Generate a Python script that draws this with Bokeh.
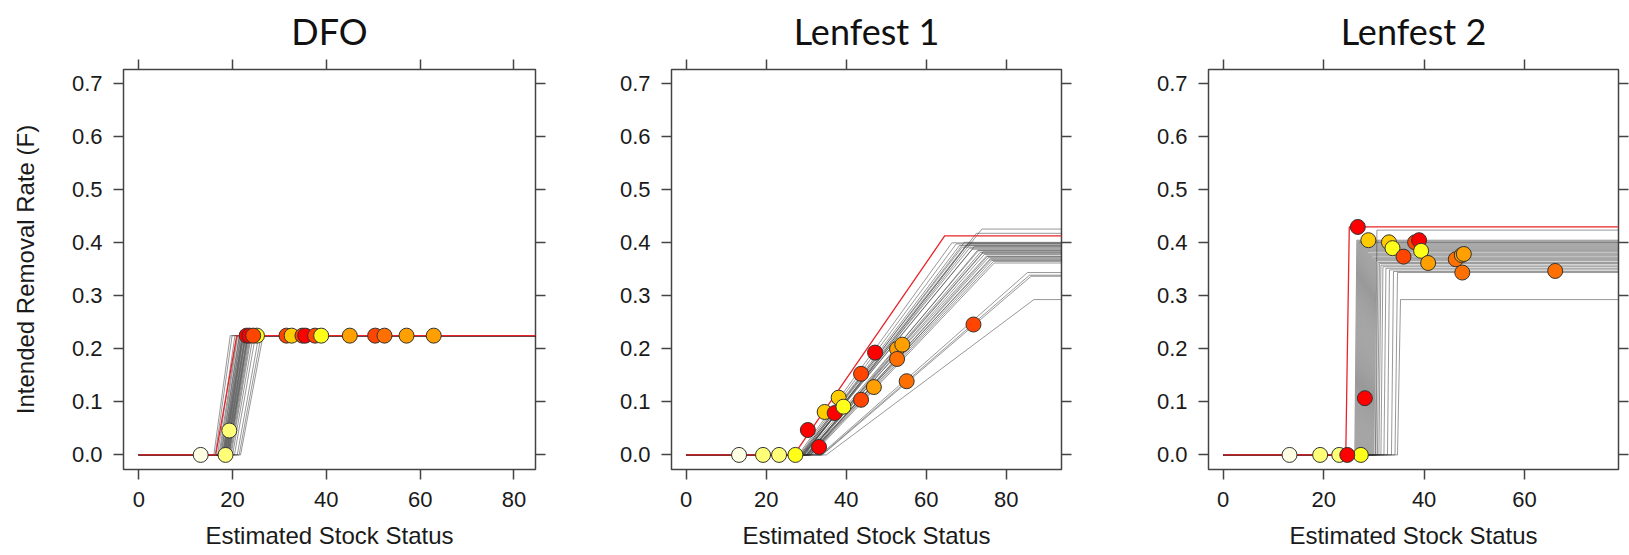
from bokeh.plotting import figure
from bokeh.layouts import row
from bokeh.models import LinearAxis, FixedTicker, PrintfTickFormatter, Range1d, ColumnDataSource
from bokeh.embed import file_html
from bokeh.resources import INLINE

# ---------------- text ----------------
TITLES = ["DFO", "Lenfest 1", "Lenfest 2"]
X_LABEL = "Estimated Stock Status"
Y_LABEL = "Intended Removal Rate (F)"
Y_TICKS = [0.0, 0.1, 0.2, 0.3, 0.4, 0.5, 0.6, 0.7]
X_TICKS_DFO = [0, 20, 40, 60, 80]
X_TICKS_L1 = [0, 20, 40, 60, 80]
X_TICKS_L2 = [0, 20, 40, 60]
X_END = 100  # rules continue past the right edge

# ---------------- colours of the yearly points ----------------
IVORY = "#FFFFE3"
LTYEL = "#FFFF78"
YEL = "#FFFF1A"
GOLD = "#FFCC00"
ORANGE = "#FFA000"
DKOR = "#FF7000"
REDOR = "#FF4500"
RED = "#FF0000"

# ---------------- DFO ----------------
dfo_red = [16.4, 20.9, 0.225]  # start of ramp, end of ramp, F max
dfo_fmax = 0.225
dfo_x0 = [16.0, 16.3, 16.8, 17.1, 17.3, 17.5, 17.6, 17.8, 17.9, 18.0, 18.1, 18.2, 18.3, 18.4, 18.5,
          18.6, 18.7, 18.8, 18.9, 19.0, 19.1, 19.2, 19.3, 19.5, 19.7, 20.0, 20.4, 21.0, 21.4, 21.7]
dfo_x1 = [19.5, 19.9, 20.5, 20.9, 21.1, 21.4, 21.5, 21.7, 21.8, 22.0, 22.1, 22.2, 22.3, 22.4, 22.6,
          22.7, 22.8, 22.9, 23.1, 23.2, 23.3, 23.4, 23.6, 23.8, 24.0, 24.4, 24.9, 25.6, 26.1, 26.5]
dfo_px = [13.2, 18.5, 19.3, 25.2, 23.0, 23.6, 24.4, 31.5, 32.6, 34.9, 35.5, 37.6, 38.9, 45.0, 50.4, 52.4, 57.1, 62.9]
dfo_pf = [0.0, 0.0, 0.046, 0.225, 0.225, 0.225, 0.225, 0.225, 0.225, 0.225, 0.225, 0.225, 0.225,
          0.225, 0.225, 0.225, 0.225, 0.225]
dfo_pc = [IVORY, LTYEL, LTYEL, YEL, RED, RED, REDOR, REDOR, GOLD, REDOR, RED, REDOR, YEL,
          ORANGE, REDOR, DKOR, ORANGE, ORANGE]

# ---------------- Lenfest 1 ----------------
l1_red = [26.9, 64.6, 0.413]
l1_x0 = [28.0, 28.3, 28.6, 28.5, 28.8, 29.0, 29.2, 29.0, 29.5, 29.3, 29.6, 30.0, 30.2, 30.4, 30.0,
         30.6, 30.8, 31.0, 31.2, 30.5, 31.5, 29.4, 28.9, 30.3, 31.0, 33.5, 33.8, 34.0, 35.0, 29.9]
l1_x1 = [66.4, 67.5, 68.3, 69.0, 70.0, 70.8, 71.5, 72.0, 73.9, 72.5, 73.0, 73.5, 74.0, 74.5, 75.0,
         75.5, 76.0, 76.4, 76.8, 76.0, 77.0, 70.5, 69.5, 72.8, 75.2, 85.3, 85.8, 86.2, 86.9, 74.2]
l1_f = [0.400, 0.398, 0.395, 0.392, 0.396, 0.390, 0.388, 0.393, 0.426, 0.418, 0.385, 0.382, 0.380,
        0.378, 0.375, 0.372, 0.370, 0.367, 0.365, 0.368, 0.362, 0.399, 0.401, 0.386, 0.374, 0.344,
        0.339, 0.337, 0.293, 0.383]
l1_px = [13.2, 19.2, 23.2, 27.3, 30.4, 33.2, 34.6, 37.1, 38.1, 39.3, 43.7, 43.7, 47.2, 46.9, 52.7,
         54.0, 52.7, 55.1, 71.8]
l1_pf = [0.0, 0.0, 0.0, 0.0, 0.047, 0.015, 0.081, 0.079, 0.108, 0.091, 0.153, 0.104, 0.193, 0.128,
         0.200, 0.208, 0.181, 0.139, 0.246]
l1_pc = [IVORY, LTYEL, LTYEL, YEL, RED, RED, GOLD, RED, GOLD, YEL, REDOR, REDOR, RED, ORANGE,
         ORANGE, ORANGE, DKOR, DKOR, REDOR]

# ---------------- Lenfest 2 ----------------
l2_red = [24.4, 25.1, 0.430]
l2_x0 = [26.2, 26.4, 26.6, 26.8, 27.0, 27.2, 27.4, 27.6, 27.8, 28.0, 28.2, 28.4, 28.6, 28.8, 29.0,
         29.2, 29.4, 29.6, 29.8, 30.0, 30.3, 30.4, 30.7, 31.0, 31.4, 32.0, 32.7, 33.5, 34.2, 34.7]
l2_x1 = [26.6, 26.8, 27.0, 27.2, 27.4, 27.6, 27.8, 28.0, 28.2, 28.4, 28.6, 28.8, 29.0, 29.2, 29.4,
         29.6, 29.8, 30.0, 30.2, 30.4, 30.6, 30.8, 31.1, 31.4, 31.8, 32.4, 33.1, 33.9, 34.7, 35.3]
l2_f = [0.405, 0.403, 0.401, 0.400, 0.398, 0.396, 0.394, 0.392, 0.390, 0.388, 0.386, 0.384, 0.381,
        0.379, 0.377, 0.375, 0.372, 0.370, 0.368, 0.366, 0.424, 0.363, 0.361, 0.358, 0.355, 0.352,
        0.349, 0.346, 0.344, 0.293]
l2_px = [13.2, 19.3, 23.1, 27.4, 24.7, 26.8, 28.2, 28.9, 33.0, 33.7, 35.9, 38.2, 39.0, 39.4, 40.8,
         46.3, 47.5, 47.9, 47.6, 66.1]
l2_pf = [0.0, 0.0, 0.0, 0.0, 0.0, 0.430, 0.107, 0.405, 0.401, 0.390, 0.374, 0.401, 0.405, 0.385,
         0.362, 0.369, 0.377, 0.379, 0.344, 0.347]
l2_pc = [IVORY, LTYEL, LTYEL, YEL, RED, RED, RED, GOLD, GOLD, YEL, REDOR, REDOR, RED, YEL, ORANGE,
         DKOR, ORANGE, ORANGE, DKOR, DKOR]

FONT = "Liberation Sans"
BOX = "#444444"
FRAME_H = 400
B_TOP = 69
B_BOTTOM = 86


def rule(x0, x1, f):
    return [0, x0, x1, X_END], [0, 0, f, f]


def panel(title, xr, xticks, frame_w, bl, br, red, gx0, gx1, gf, px, pf, pc, ylabel):
    p = figure(output_backend="svg", toolbar_location=None,
               frame_width=frame_w, frame_height=FRAME_H,
               min_border_left=bl, min_border_right=br,
               min_border_top=B_TOP, min_border_bottom=B_BOTTOM,
               x_range=Range1d(*xr), y_range=Range1d(-0.0275, 0.727),
               x_axis_label=X_LABEL, y_axis_label=ylabel)
    p.title.text = title
    p.title.align = "center"
    p.title.text_font = "Lato"
    p.title.text_font_size = "36px"
    p.title.text_font_style = "normal"
    p.title.text_color = "#111111"
    p.title.text_line_height = 0.8
    p.title.standoff = 13
    p.grid.visible = False
    p.background_fill_color = "white"
    p.border_fill_color = "white"
    p.outline_line_color = BOX
    p.outline_line_width = 1.5

    bottom = p.below[0]
    left = p.left[0]
    top = LinearAxis()
    right = LinearAxis()
    p.add_layout(top, "above")
    p.add_layout(right, "right")

    for ax in (bottom, top):
        ax.ticker = FixedTicker(ticks=xticks)
    for ax in (left, right):
        ax.ticker = FixedTicker(ticks=Y_TICKS)
        ax.formatter = PrintfTickFormatter(format="%.1f")
    for ax in (bottom, top, left, right):
        ax.axis_line_color = None
        ax.major_tick_in = 0
        ax.major_tick_out = 10
        ax.major_tick_line_color = BOX
        ax.major_tick_line_width = 1.5
        ax.minor_tick_line_color = None
        ax.major_label_text_font = FONT
        ax.major_label_text_font_size = "22px"
        ax.major_label_text_color = "#1a1a1a"
        ax.axis_label_text_font = FONT
        ax.axis_label_text_font_size = "24px"
        ax.axis_label_text_font_style = "normal"
        ax.axis_label_text_color = "#1a1a1a"
    for ax in (top, right):
        ax.major_label_text_font_size = "0px"
        ax.major_label_standoff = 0
        ax.axis_label = None
    bottom.major_label_standoff = 12
    bottom.axis_label_standoff = 12
    left.major_label_standoff = 11
    left.axis_label_standoff = 30

    xs, ys = [], []
    for a, b, f in zip(gx0, gx1, gf):
        lx, ly = rule(a, b, f)
        xs.append(lx)
        ys.append(ly)
    p.multi_line(xs=xs, ys=ys, line_color="#333333", line_alpha=0.5, line_width=1)

    rx, ry = rule(*red)
    p.line(rx, ry, line_color="#E8242A", line_alpha=1.0, line_width=1.3)

    src = ColumnDataSource(dict(x=px, y=pf, c=pc))
    p.scatter("x", "y", source=src, size=15, fill_color="c", line_color="#333333", line_width=1)
    return p


p1 = panel(TITLES[0], (-3.26, 84.6), X_TICKS_DFO, 412, 123, 65, dfo_red,
           dfo_x0, dfo_x1, [dfo_fmax] * len(dfo_x0), dfo_px, dfo_pf, dfo_pc, Y_LABEL)
p2 = panel(TITLES[1], (-3.68, 93.8), X_TICKS_L1, 390, 71, 79, l1_red,
           l1_x0, l1_x1, l1_f, l1_px, l1_pf, l1_pc, None)
p3 = panel(TITLES[2], (-2.93, 78.7), X_TICKS_L2, 410, 68, 11, l2_red,
           l2_x0, l2_x1, l2_f, l2_px, l2_pf, l2_pc, None)

layout = row(p1, p2, p3)
open("out.html", "w").write(file_html(layout, INLINE))
